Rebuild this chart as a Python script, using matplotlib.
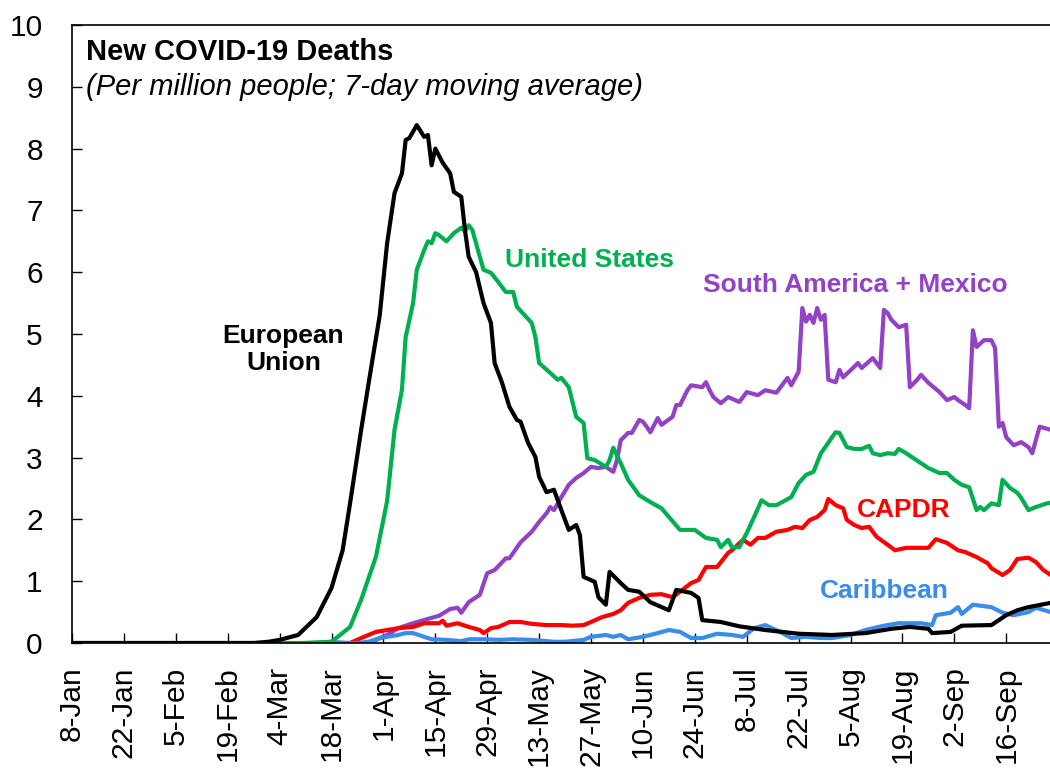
import numpy as np
import pandas as pd
import matplotlib
matplotlib.use("Agg")
import matplotlib.pyplot as plt

plt.rcParams['font.family'] = ['Liberation Sans', 'DejaVu Sans']

START = pd.Timestamp("2020-01-08")

# values: day offset from 8-Jan-2020, deaths per million (7dma)
eu_days = [0, 49, 53, 56, 61, 66, 70, 73, 75, 78, 80, 83, 85, 87, 89, 90, 91, 93, 95, 96,
           97, 98, 100, 102, 103, 105, 106, 107, 109, 111, 113, 114, 116, 118, 120, 121,
           123, 125, 126, 128, 130, 132, 134, 136, 137, 138, 141, 142, 144, 145, 148, 150,
           153, 156, 161, 163, 167, 169, 170, 175, 180, 187, 196, 205, 214, 221, 226, 231,
           232, 237, 240, 248, 252, 255, 258, 264]
eu_vals = [0.00, 0.00, 0.02, 0.05, 0.13, 0.42, 0.89, 1.50, 2.26, 3.45, 4.20, 5.30, 6.47,
           7.28, 7.60, 8.14, 8.17, 8.38, 8.19, 8.22, 7.73, 8.00, 7.77, 7.60, 7.30, 7.22,
           6.68, 6.25, 6.00, 5.50, 5.18, 4.53, 4.21, 3.82, 3.61, 3.58, 3.24, 3.01, 2.69,
           2.44, 2.48, 2.15, 1.83, 1.91, 1.75, 1.07, 0.99, 0.74, 0.62, 1.15, 0.97, 0.86,
           0.83, 0.66, 0.53, 0.86, 0.81, 0.73, 0.37, 0.34, 0.27, 0.21, 0.15, 0.13, 0.16,
           0.23, 0.26, 0.23, 0.16, 0.18, 0.28, 0.29, 0.45, 0.53, 0.58, 0.65]

us_days = [0, 62, 70, 75, 78, 82, 85, 87, 89, 90, 92, 93, 95, 96, 97, 98, 99, 101, 103, 105,
           106, 107, 108, 110, 111, 113, 115, 117, 119, 120, 124, 125, 126, 129, 131, 132,
           134, 136, 138, 139, 141, 144, 145, 146, 148, 150, 153, 156, 159, 164, 168, 171,
           174, 175, 177, 178, 180, 182, 184, 186, 188, 190, 194, 196, 198, 200, 202, 204,
           205, 206, 207, 209, 211, 213, 215, 216, 218, 220, 222, 223, 225, 229, 231, 234,
           236, 238, 240, 242, 244, 245, 246, 248, 250, 251, 253, 255, 256, 258, 260, 263, 264]
us_vals = [0.00, 0.00, 0.02, 0.26, 0.70, 1.40, 2.30, 3.45, 4.10, 4.95, 5.50, 6.04, 6.36,
           6.50, 6.47, 6.63, 6.60, 6.50, 6.63, 6.72, 6.66, 6.76, 6.68, 6.25, 6.04, 5.99,
           5.84, 5.68, 5.68, 5.44, 5.18, 4.95, 4.53, 4.37, 4.26, 4.29, 4.14, 3.66, 3.56,
           2.99, 2.96, 2.85, 2.96, 3.16, 2.91, 2.64, 2.39, 2.28, 2.18, 1.83, 1.83, 1.70,
           1.67, 1.55, 1.67, 1.55, 1.55, 1.78, 2.04, 2.31, 2.23, 2.23, 2.36, 2.59, 2.72,
           2.77, 3.07, 3.24, 3.33, 3.41, 3.40, 3.17, 3.14, 3.14, 3.19, 3.07, 3.04, 3.07,
           3.06, 3.14, 3.07, 2.91, 2.83, 2.75, 2.75, 2.64, 2.56, 2.52, 2.15, 2.20, 2.15,
           2.26, 2.23, 2.64, 2.51, 2.43, 2.35, 2.15, 2.20, 2.26, 2.27]

sam_days = [70, 80, 82, 85, 88, 92, 96, 99, 102, 104, 105, 107, 110, 112, 114, 117, 118, 121,
            124, 126, 128, 129, 130, 132, 134, 136, 138, 140, 142, 144, 146, 147, 148, 150,
            151, 153, 154, 155, 156, 158, 159, 162, 163, 164, 166, 167, 170, 171, 172, 173,
            175, 177, 180, 182, 185, 187, 190, 193, 194, 196, 197, 198, 199, 200, 201, 202,
            203, 204, 206, 207, 208, 211, 212, 213, 216, 218, 219, 220, 221, 223, 225, 226,
            228, 229, 231, 234, 236, 238, 239, 241, 242, 243, 244, 246, 248, 249, 250, 251,
            252, 254, 256, 258, 259, 261, 264]
sam_vals = [0.00, 0.00, 0.05, 0.13, 0.24, 0.32, 0.39, 0.44, 0.55, 0.57, 0.49, 0.66, 0.78,
            1.13, 1.18, 1.37, 1.37, 1.63, 1.80, 1.96, 2.10, 2.20, 2.15, 2.36, 2.56, 2.67,
            2.75, 2.85, 2.83, 2.85, 2.77, 2.96, 3.28, 3.40, 3.40, 3.61, 3.58, 3.50, 3.41,
            3.64, 3.53, 3.66, 3.85, 3.85, 4.09, 4.17, 4.14, 4.22, 4.09, 3.98, 3.88, 3.98,
            3.90, 4.06, 4.01, 4.09, 4.05, 4.29, 4.17, 4.39, 5.42, 5.20, 5.31, 5.18, 5.42,
            5.23, 5.31, 4.26, 4.22, 4.42, 4.30, 4.47, 4.53, 4.45, 4.61, 4.45, 5.39, 5.34,
            5.23, 5.11, 5.15, 4.14, 4.26, 4.34, 4.21, 4.06, 3.93, 3.98, 3.93, 3.85, 3.80,
            5.06, 4.79, 4.90, 4.90, 4.77, 3.50, 3.56, 3.33, 3.20, 3.25, 3.17, 3.07, 3.50, 3.45]

capdr_days = [66, 75, 78, 82, 85, 88, 92, 95, 99, 100, 101, 104, 107, 110, 111, 113, 115, 118,
              121, 124, 128, 132, 135, 138, 140, 143, 146, 148, 150, 153, 156, 159, 162, 164,
              167, 169, 171, 174, 177, 178, 181, 183, 185, 187, 190, 193, 195, 197, 199, 201,
              203, 204, 206, 208, 209, 211, 213, 215, 217, 220, 222, 225, 228, 231, 233, 236,
              239, 241, 244, 247, 248, 251, 253, 255, 258, 260, 262, 264]
capdr_vals = [0.00, 0.00, 0.08, 0.18, 0.21, 0.24, 0.26, 0.32, 0.32, 0.36, 0.28, 0.32, 0.26,
              0.21, 0.16, 0.24, 0.26, 0.34, 0.34, 0.31, 0.29, 0.29, 0.28, 0.29, 0.34, 0.42,
              0.47, 0.53, 0.65, 0.73, 0.78, 0.79, 0.74, 0.83, 0.97, 1.02, 1.23, 1.23, 1.46,
              1.50, 1.67, 1.59, 1.70, 1.70, 1.80, 1.83, 1.88, 1.86, 1.99, 2.04, 2.15, 2.33,
              2.23, 2.18, 1.99, 1.91, 1.86, 1.88, 1.72, 1.59, 1.50, 1.54, 1.54, 1.54, 1.68,
              1.62, 1.50, 1.47, 1.39, 1.29, 1.21, 1.10, 1.18, 1.36, 1.38, 1.31, 1.18, 1.10]

carib_days = [66, 70, 74, 77, 80, 83, 88, 90, 92, 95, 97, 101, 105, 107, 112, 115, 119, 124,
              130, 133, 138, 140, 144, 146, 148, 150, 154, 158, 161, 164, 167, 170, 174, 178,
              181, 184, 187, 191, 194, 198, 202, 205, 210, 214, 219, 223, 229, 232, 233, 237,
              239, 240, 243, 248, 251, 254, 258, 260, 264]
carib_vals = [0.00, 0.02, 0.00, 0.00, 0.02, 0.08, 0.13, 0.16, 0.16, 0.10, 0.06, 0.05, 0.03,
              0.06, 0.06, 0.05, 0.06, 0.05, 0.02, 0.02, 0.05, 0.10, 0.13, 0.10, 0.13, 0.06,
              0.10, 0.16, 0.21, 0.18, 0.08, 0.08, 0.15, 0.13, 0.10, 0.24, 0.29, 0.18, 0.08,
              0.10, 0.08, 0.08, 0.13, 0.21, 0.28, 0.32, 0.32, 0.29, 0.45, 0.49, 0.58, 0.47,
              0.62, 0.58, 0.49, 0.45, 0.50, 0.57, 0.50]


def to_dates(days):
    return START + pd.to_timedelta(days, unit="D")


W, H = 1050, 769
fig = plt.figure(figsize=(W / 100, H / 100), dpi=100)
ax = fig.add_axes([72 / W, 126 / H, 978 / W, 618 / H])

lw = 3.0
ax.plot(to_dates(sam_days), sam_vals, color='#9341C6', lw=lw)
ax.plot(to_dates(capdr_days), capdr_vals, color='#FF0000', lw=lw)
ax.plot(to_dates(carib_days), carib_vals, color='#3A8CEA', lw=lw)
ax.plot(to_dates(us_days), us_vals, color='#00B050', lw=lw)
ax.plot(to_dates(eu_days), eu_vals, color='#000000', lw=lw)

ax.set_ylim(0, 10)
ax.set_yticks(range(0, 11))
ax.set_xlim(START, START + pd.Timedelta(days=263.8))
ticks = pd.date_range("2020-01-08", "2020-09-16", freq="14D")
ax.set_xticks(ticks)
ax.set_xticklabels([f"{d.day}-{d.strftime('%b')}" for d in ticks], rotation=90)

ax.tick_params(axis='y', direction='in', length=7, width=1, labelsize=21.5, pad=21)
ax.tick_params(axis='x', direction='in', length=7, width=1, labelsize=21.5, pad=17)
ax.spines['right'].set_visible(False)
for s in ['left', 'bottom', 'top']:
    ax.spines[s].set_linewidth(1.2)

fig.text(86 / W, 1 - 60 / H, "New COVID-19 Deaths", fontsize=21, fontweight='bold',
         ha='left', va='baseline')
fig.text(86 / W, 1 - 95 / H, "(Per million people; 7-day moving average)", fontsize=21,
         style='italic', ha='left', va='baseline')

lab = dict(fontsize=19, fontweight='bold', va='baseline')
ax.text(to_dates([116.8])[0], 6.08, "United States", color='#00B050', ha='left', **lab)
ax.text(to_dates([170.2])[0], 5.68, "South America + Mexico", color='#9341C6', ha='left', **lab)
ax.text(to_dates([57.0])[0], 4.42, "European\nUnion", color='black', ha='center',
        linespacing=1.15, **lab)
ax.text(to_dates([211.8])[0], 2.04, "CAPDR", color='#FF0000', ha='left', **lab)
ax.text(to_dates([201.8])[0], 0.73, "Caribbean", color='#3A8CEA', ha='left', **lab)

fig.savefig("out.png", dpi=100)
